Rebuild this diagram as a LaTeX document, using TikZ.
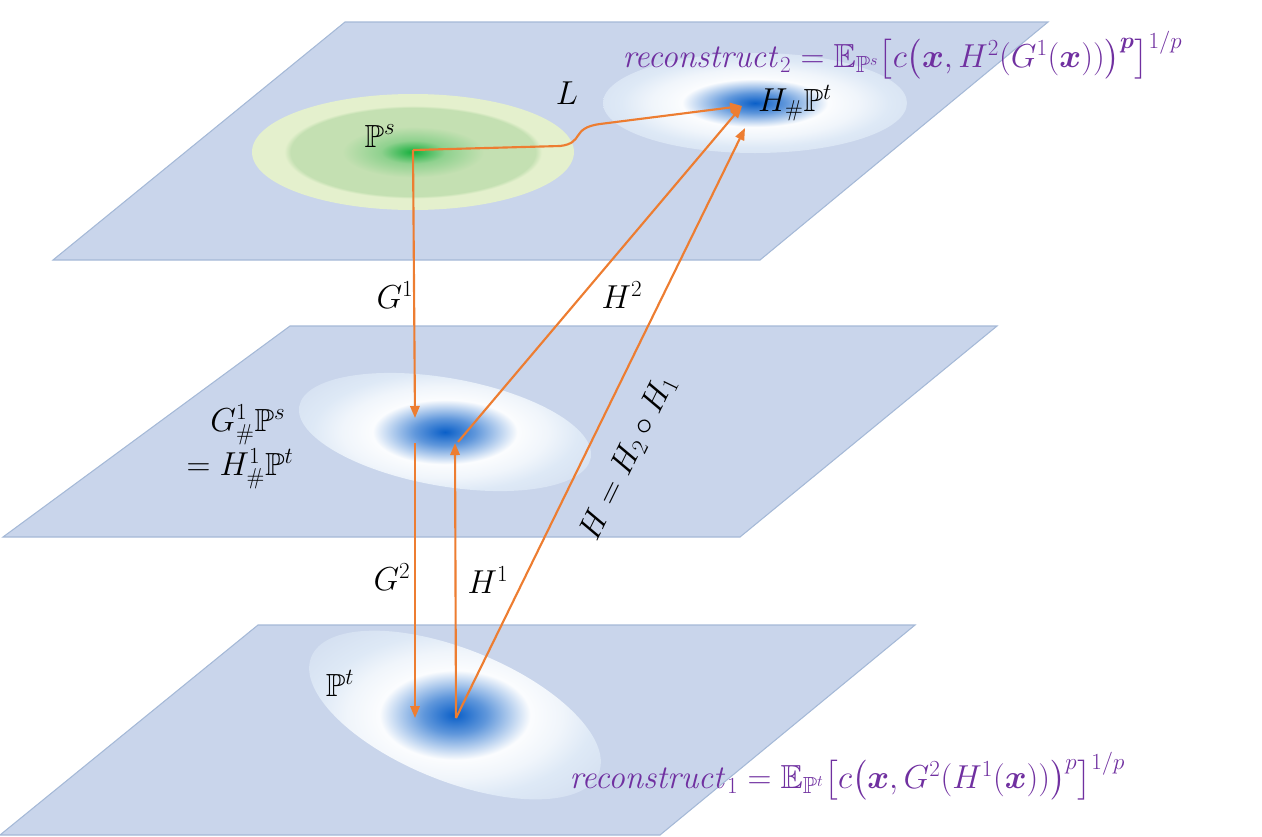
\documentclass[tikz,border=0pt]{standalone}
\usepackage{amsmath,amssymb,bm}
\usetikzlibrary{arrows.meta}
\definecolor{plane}{RGB}{201,213,235}
\definecolor{planeb}{RGB}{165,185,215}
\definecolor{orn}{RGB}{237,125,49}
\definecolor{purp}{RGB}{112,48,160}
\definecolor{gl}{RGB}{228,240,205}
\definecolor{gm}{RGB}{196,224,178}
\definecolor{gc}{RGB}{20,175,60}
\definecolor{bl}{RGB}{222,233,246}
\definecolor{bc}{RGB}{10,95,200}
\pgfdeclareradialshading{blueblob}{\pgfpoint{0bp}{0bp}}{color(0bp)=(bc); color(5bp)=(bc!65!white); color(12bp)=(white!88!bl); color(17bp)=(white!55!bl); color(22bp)=(bl); color(29bp)=(bl!55!plane); color(35bp)=(plane); color(50bp)=(plane)}
\pgfdeclareradialshading{greenblob}{\pgfpoint{0bp}{0bp}}{color(0bp)=(gc); color(5bp)=(gm!70!gc); color(11bp)=(gm); color(19bp)=(gm); color(20bp)=(gl); color(34.5bp)=(gl); color(35bp)=(plane); color(50bp)=(plane)}
\tikzset{
 pl/.style={fill=plane,draw=planeb,line width=0.8pt},
 arr/.style={draw=orn,line width=1.6pt,-{Triangle[length=9pt,width=7pt]}},
 lab/.style={font=\fontsize{24}{28}\selectfont},
 form/.style={font=\fontsize{25}{30}\selectfont,text=purp},
}
\begin{document}
\begin{tikzpicture}[x=0.75pt,y=-0.75pt]
\useasboundingbox (0,0) rectangle (1262,836);
% planes
\draw[pl] (345,22) -- (1048,22) -- (760,260) -- (53,260) -- cycle;
\draw[pl] (290,326) -- (997,326) -- (740,537) -- (3,537) -- cycle;
\draw[pl] (258,625) -- (915,625) -- (660,835) -- (0,835) -- cycle;
% blobs
\shade[shading=greenblob] (413,152) ellipse [x radius=161, y radius=58];
\shade[shading=blueblob] (755,103) ellipse [x radius=152, y radius=50];
\begin{scope}[shift={(445,432)},rotate=-10]
\shade[shading=blueblob] (0,0) ellipse [x radius=148, y radius=54];
\end{scope}
\begin{scope}[shift={(455,715)},rotate=-22]
\shade[shading=blueblob] (0,0) ellipse [x radius=155, y radius=66];
\end{scope}
% anchor coordinates
\coordinate (ps) at (413,150);
\coordinate (ht) at (742,106);
\coordinate (m1) at (415,418);
\coordinate (m2) at (415,443);
\coordinate (mH) at (458,442);
\coordinate (b1) at (415,718);
\coordinate (b2) at (456,718);
% arrows
\draw[arr] (ps) -- (560,146) .. controls (585,143) and (570,128) .. (600,124) -- (ht);
\draw[arr] (ps) -- (m1);
\draw[arr] (mH) -- (ht);
\draw[arr] (m2) -- (b1);
\draw[arr] (b2) -- (455,443);
\draw[arr] (b2) -- (745,128);
% labels
\node[lab] (L) at (567,93) {$L$};
\node[lab] (lps) at (380,136) {$\mathbb{P}^s$};
\node[lab] (lht) at (795,103) {$H_{\#}\mathbb{P}^t$};
\node[lab] (g1) at (395,295) {$G^1$};
\node[lab] (h2) at (622,295) {$H^2$};
\node[lab,align=left] (gm) at (240,447) {$\phantom{=}G^1_{\#}\mathbb{P}^s$\\[2pt] $=H^1_{\#}\mathbb{P}^t$};
\node[lab] (g2) at (392,577) {$G^2$};
\node[lab] (h1) at (488,580) {$H^1$};
\node[lab,rotate=64] (hh) at (628,458) {$H=H_2\circ H_1$};
\node[lab] (lpt) at (340,683) {$\mathbb{P}^t$};
\node[form,anchor=west] (r2) at (618,55) {$\mathit{reconstruct}_2=\mathbb{E}_{\mathbb{P}^s}\big[c\big(\bm{x},H^2(G^1(\bm{x}))\big)^{\bm{p}}\big]^{1/p}$};
\node[form,anchor=west] (r1) at (565,776) {$\mathit{reconstruct}_1=\mathbb{E}_{\mathbb{P}^t}\big[c\big(\bm{x},G^2(H^1(\bm{x}))\big)^{p}\big]^{1/p}$};
\end{tikzpicture}
\end{document}
